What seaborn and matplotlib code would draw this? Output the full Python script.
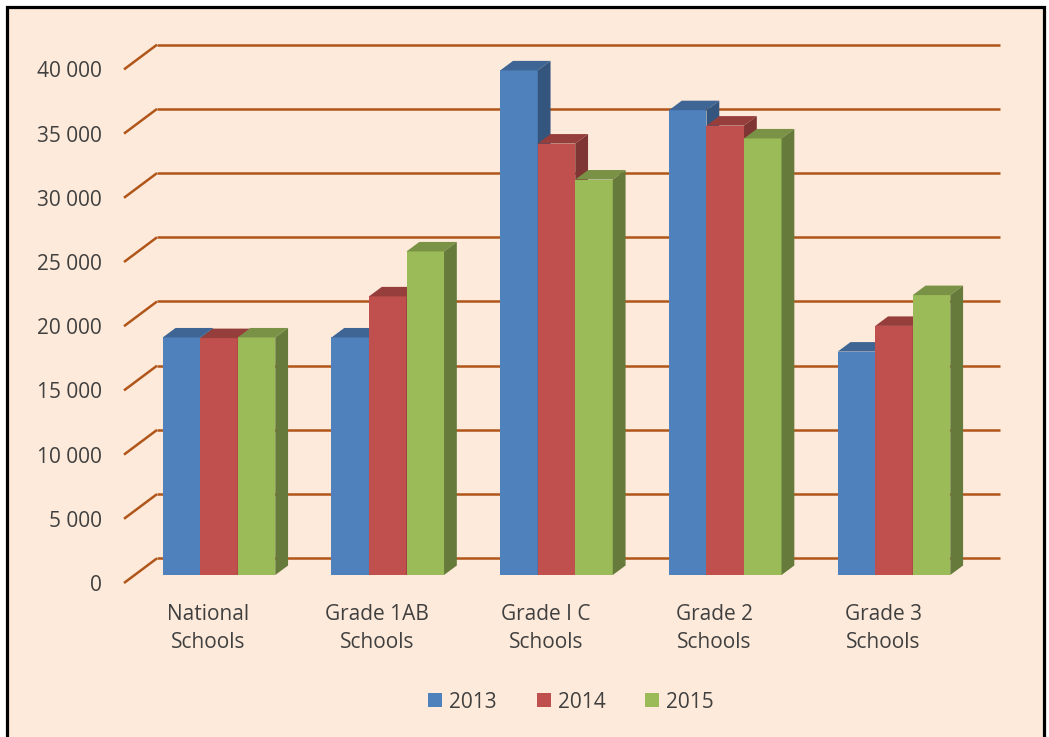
import matplotlib
matplotlib.use("Agg")
import matplotlib.pyplot as plt
import seaborn as sns
import pandas as pd
import numpy as np
from matplotlib.patches import Polygon, Rectangle
from matplotlib.lines import Line2D
import matplotlib.colors as mcolors

# ---- data ----
categories = ["National\nSchools", "Grade 1AB\nSchools", "Grade I C\nSchools",
              "Grade 2\nSchools", "Grade 3\nSchools"]
years = ["2013", "2014", "2015"]
values_2013 = [18500, 18500, 39300, 36200, 17400]
values_2014 = [18450, 21700, 33600, 35000, 19400]
values_2015 = [18500, 25200, 30800, 34000, 21800]
y_ticks = [0, 5000, 10000, 15000, 20000, 25000, 30000, 35000, 40000]
y_tick_labels = ["0", "5 000", "10 000", "15 000", "20 000", "25 000",
                 "30 000", "35 000", "40 000"]
colors = ["#4F81BD", "#C0504D", "#9BBB59"]

rows = []
for yr, vals in zip(years, [values_2013, values_2014, values_2015]):
    for c, v in zip(categories, vals):
        rows.append({"category": c, "year": yr, "value": v})
df = pd.DataFrame(rows)

# ---- figure ----
W, H = 1049, 737
fig = plt.figure(figsize=(W / 100, H / 100), dpi=100)
fig.patch.set_facecolor("white")
bg = Rectangle((6.5 / W, -0.05), (1043.5 - 6.5) / W, 1 - 6.5 / H + 0.05,
               transform=fig.transFigure, facecolor="#FDEADA",
               edgecolor="black", linewidth=2.3, zorder=-10)
fig.patches.append(bg)

sns.set_style("white")
plt.rcParams["font.family"] = ["Open Sans", "DejaVu Sans"]

# pixel geometry
ppx = 168.75          # px per category unit
ppy = 12.84 / 1000.0  # px per value unit
x0_px = 219.0         # px of category 0 centre
ax_left_px, ax_right_px = 124.0, 1000.0
ax_bottom_px, ax_top_px = 583.0, 45.0
bar_base_px = 575.0

xl = (ax_left_px - x0_px) / ppx
xr = (ax_right_px - x0_px) / ppx
y_front = -(ax_bottom_px - bar_base_px) / ppy        # front floor offset
y_back = (bar_base_px - 558.3) / ppy                  # back wall offset
x_back = 33.0 / ppx
ylo = y_front
yhi = (bar_base_px - ax_top_px) / ppy

ax = fig.add_axes([ax_left_px / W, (H - ax_bottom_px) / H,
                   (ax_right_px - ax_left_px) / W,
                   (ax_bottom_px - ax_top_px) / H])
ax.set_zorder(1)
ax.set_facecolor("none")

sns.barplot(data=df, x="category", y="value", hue="year", palette=colors,
            width=0.667, saturation=1, ax=ax, legend=False,
            edgecolor="none", linewidth=0, errorbar=None)

ax.set_xlim(xl, xr)
ax.set_ylim(ylo, yhi)

grid_color = "#B0561A"
for v in y_ticks:
    ax.add_line(Line2D([xl, xl + x_back], [v + y_front, v + y_back],
                       color=grid_color, lw=1.8, clip_on=False, zorder=1,
                       solid_capstyle="butt"))
    ax.add_line(Line2D([xl + x_back, xr], [v + y_back, v + y_back],
                       color=grid_color, lw=1.8, clip_on=False, zorder=1,
                       solid_capstyle="butt"))

# 3D faces
ddx = 12.8 / ppx
ddy = 9.5 / ppy
bars = sorted(ax.patches, key=lambda p: p.get_x())
for i, p in enumerate(bars):
    x, w, h = p.get_x(), p.get_width(), p.get_height()
    fc = np.array(mcolors.to_rgb(p.get_facecolor()))
    z = 3 + i * 0.01
    p.set_zorder(z)
    top = Polygon([(x, h), (x + w, h), (x + w + ddx, h + ddy), (x + ddx, h + ddy)],
                  closed=True, facecolor=fc * 0.78, edgecolor="none", zorder=z)
    side = Polygon([(x + w, 0), (x + w + ddx, ddy), (x + w + ddx, h + ddy), (x + w, h)],
                   closed=True, facecolor=fc * 0.66, edgecolor="none", zorder=z)
    ax.add_patch(top)
    ax.add_patch(side)

text_color = "#404040"
ax.set_yticks([v + y_front for v in y_ticks])
ax.set_yticklabels(y_tick_labels)
ax.set_xticks([i - 10.6 / ppx for i in range(len(categories))])
ax.set_xticklabels(categories, linespacing=1.45)
ax.tick_params(axis="y", length=0, pad=16, labelsize=15, labelcolor=text_color)
ax.tick_params(axis="x", length=0, pad=15, labelsize=15, labelcolor=text_color)
ax.set_xlabel("")
ax.set_ylabel("")
for s in ax.spines.values():
    s.set_visible(False)

handles = [Rectangle((0, 0), 1, 1, facecolor=c, edgecolor="none") for c in colors]
fig.legend(handles, years, loc="center", bbox_to_anchor=(571 / W, 1 - 702 / H),
           ncol=3, frameon=False, fontsize=15, handlelength=0.67,
           handleheight=0.67, handletextpad=0.34, columnspacing=1.9,
           labelcolor=text_color)

fig.savefig("out.png", dpi=100, facecolor=fig.get_facecolor())
